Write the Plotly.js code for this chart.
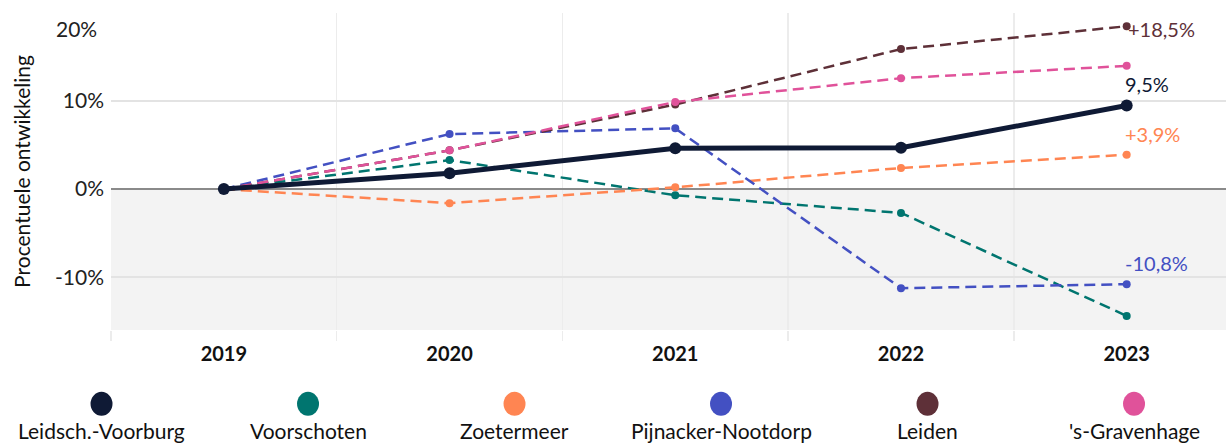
<!DOCTYPE html>
<html><head><meta charset="utf-8">
<script src="https://cdn.plot.ly/plotly-3.0.1.min.js"></script>
<style>html,body{margin:0;padding:0;background:#fff}#chart{width:1226px;height:443px}</style>
</head><body><div id="chart"></div>
<script>
const years = [2019, 2020, 2021, 2022, 2023];
const names = ['Leidsch.-Voorburg', 'Voorschoten', 'Zoetermeer', 'Pijnacker-Nootdorp', 'Leiden', "'s-Gravenhage"];
const leidschVoorburg = [0, 1.8, 4.65, 4.7, 9.5];
const voorschoten = [0, 3.3, -0.7, -2.7, -14.4];
const zoetermeer = [0, -1.6, 0.2, 2.4, 3.9];
const pijnacker = [0, 6.25, 6.9, -11.25, -10.8];
const leiden = [0, 4.4, 9.6, 15.9, 18.5];
const gravenhage = [0, 4.4, 9.9, 12.6, 14.0];
const colors = ['#0f1a35', '#00756f', '#ff8552', '#4350c2', '#5e3038', '#e0529a'];
const yTicks = [-10, 0, 10, 20];
const labelled = {0: '', 2: '+', 3: '', 4: '+'}; // series index -> sign prefix

const series = [leidschVoorburg, voorschoten, zoetermeer, pijnacker, leiden, gravenhage];
const font = 'Lato, "Noto Sans", sans-serif';

const traces = [];
[1,2,3,4,5,0].forEach(i => {
  const main = i === 0;
  traces.push({
    x: years, y: series[i], name: names[i], type: 'scatter', mode: 'lines+markers',
    line: {color: colors[i], width: main ? 5 : 2.5, dash: main ? 'solid' : '11px,6px'},
    marker: {color: colors[i], size: main ? 12 : 8},
    showlegend: false, hoverinfo: 'skip'
  });
});

const fmt = v => v.toFixed(1).replace('.', ',') + '%';
const annotations = [];
Object.keys(labelled).forEach(k => {
  const i = +k; const v = series[i][4];
  const txt = (v > 0 ? labelled[k] : '') + fmt(v);
  if (i === 4) {
    annotations.push({x: years[4], y: v, text: txt, showarrow: false, xanchor: 'left', yanchor: 'middle',
      xshift: -1, yshift: -3, font: {family: font, size: 20, color: colors[i]}});
  } else {
    annotations.push({x: years[4], y: v, text: txt, showarrow: false, xanchor: 'left', yanchor: 'bottom',
      xshift: -4, yshift: 7, font: {family: font, size: 20, color: colors[i]}});
  }
});
annotations.push({xref: 'paper', x: 0, y: yTicks[3], text: yTicks[3] + '%', showarrow: false,
  xanchor: 'right', yanchor: 'middle', xshift: -12, yshift: -15, font: {family: font, size: 21, color: '#222'}});

const shapes = [{type: 'rect', xref: 'paper', x0: 0, x1: 1, yref: 'y', y0: -16, y1: 0,
  fillcolor: '#f3f3f3', line: {width: 0}, layer: 'below'}];
const legX0 = -0.0085, legStep = 206.5 / 1115;
names.forEach((n, i) => {
  const lx = legX0 + i * legStep;
  shapes.push({type: 'circle', xref: 'paper', yref: 'paper', xsizemode: 'pixel', ysizemode: 'pixel',
    xanchor: lx, yanchor: -0.233, x0: -11, x1: 11, y0: -12, y1: 12, fillcolor: colors[i], line: {width: 0}});
  annotations.push({xref: 'paper', yref: 'paper', x: lx, y: -0.233, yshift: -27, text: n, showarrow: false,
    xanchor: 'center', yanchor: 'middle', font: {family: font, size: 21, color: '#111'}});
});

const layout = {
  width: 1226, height: 443,
  margin: {l: 111, r: 0, t: 13, b: 113},
  paper_bgcolor: '#fff', plot_bgcolor: 'rgba(0,0,0,0)',
  showlegend: false,
  xaxis: {range: [2018.5, 2023.44], tickvals: years, ticktext: years.map(String),
    showgrid: false, zeroline: false, ticks: '', ticklabelstandoff: 10,
    tickfont: {family: font, size: 20, color: '#111', weight: 'bold'},
    minor: {tickvals: [2018.5, 2019.5, 2020.5, 2021.5, 2022.5], showgrid: true, gridcolor: '#ececec', gridwidth: 1.5,
      ticks: 'outside', ticklen: 10, tickcolor: '#ececec', tickwidth: 1.5},
    fixedrange: true},
  yaxis: {range: [-16, 20], tickvals: yTicks, ticktext: yTicks.map(v => v === 20 ? '' : v + '%'),
    showgrid: true, gridcolor: '#e3e3e3', gridwidth: 2, zeroline: true, zerolinecolor: '#8a8a8a', zerolinewidth: 2,
    ticks: '', ticklabelstandoff: 6,
    tickfont: {family: font, size: 21, color: '#222'},
    title: {text: 'Procentuele ontwikkeling', font: {family: font, size: 21, color: '#111'}, standoff: 18},
    fixedrange: true},
  shapes: shapes, annotations: annotations,
  font: {family: font}
};
Plotly.newPlot('chart', traces, layout, {displayModeBar: false, staticPlot: true});
</script></body></html>
